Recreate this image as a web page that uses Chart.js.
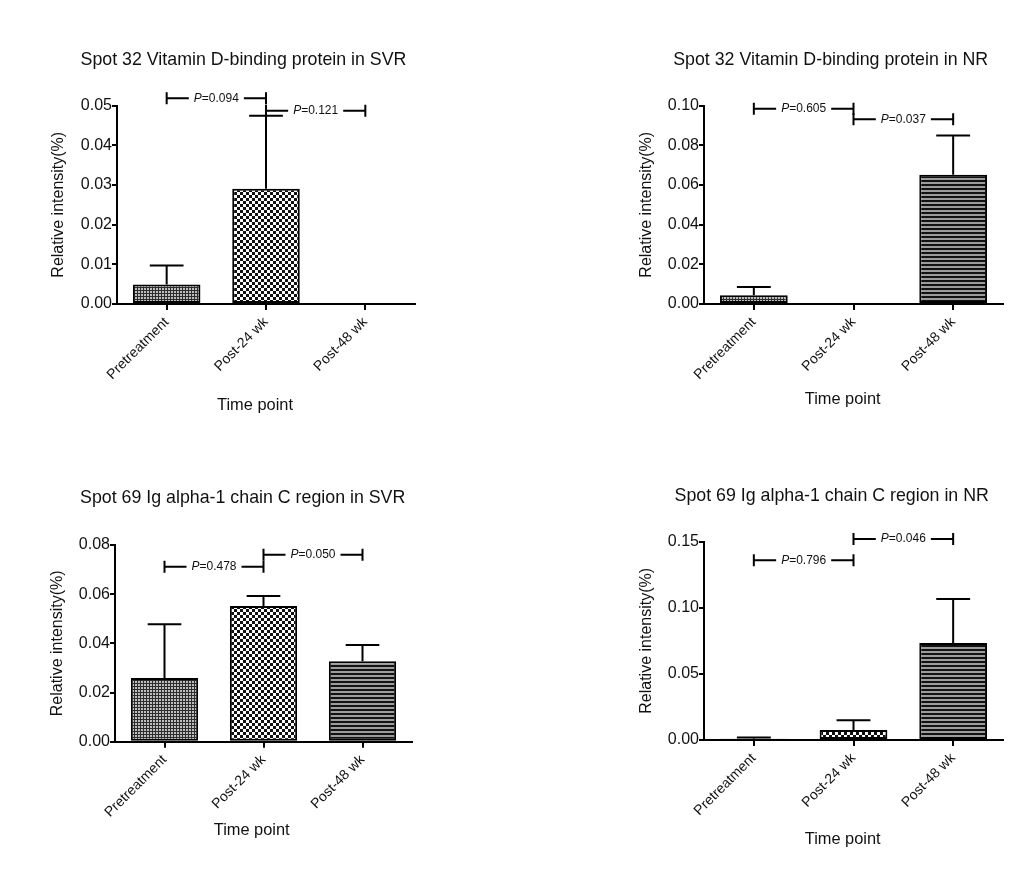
<!DOCTYPE html>
<html>
<head>
<meta charset="utf-8">
<title>Relative intensity by time point</title>
<script src="https://cdn.jsdelivr.net/npm/chart.js@4.4.1/dist/chart.umd.min.js"></script>
<style>
  html, body { margin: 0; padding: 0; background: #fff; }
  #page { position: relative; width: 1023px; height: 882px; overflow: hidden; background: #fff; }
  #page canvas { position: absolute; }
</style>
</head>
<body>
<div id="page">
  <canvas id="c1" width="511" height="441" style="left:0;top:0"></canvas>
  <canvas id="c2" width="512" height="441" style="left:511px;top:0"></canvas>
  <canvas id="c3" width="511" height="441" style="left:0;top:441px"></canvas>
  <canvas id="c4" width="512" height="441" style="left:511px;top:441px"></canvas>
</div>
<script>
// ---- data ----
const timePoints = ['Pretreatment', 'Post-24 wk', 'Post-48 wk'];

const panelTitles = [
  'Spot 32 Vitamin D-binding protein in SVR',
  'Spot 32 Vitamin D-binding protein in NR',
  'Spot 69 Ig alpha-1 chain C region in SVR',
  'Spot 69 Ig alpha-1 chain C region in NR'
];

// Spot 32 Vitamin D-binding protein (mean and upper error, % relative intensity)
const vdbpSvrMean = [0.0049, 0.0290, 0];
const vdbpSvrErr  = [0.0048, 0.0184, 0];
const vdbpNrMean  = [0.0044, 0, 0.0651];
const vdbpNrErr   = [0.0042, 0, 0.0198];

// Spot 69 Ig alpha-1 chain C region
const igaSvrMean = [0.0259, 0.0552, 0.0327];
const igaSvrErr  = [0.0219, 0.0041, 0.0066];
const igaNrMean  = [0.0010, 0.0076, 0.0734];
const igaNrErr   = [0.0008, 0.0074, 0.0333];

// y axis range: [max, step]
const vdbpSvrAxis = [0.05, 0.01];
const vdbpNrAxis  = [0.10, 0.02];
const igaSvrAxis  = [0.08, 0.02];
const igaNrAxis   = [0.15, 0.05];

// pairwise comparisons: [from group, to group, bracket level, P value]
const vdbpSvrP = [[0, 1, 0.0518, '0.094'], [1, 2, 0.0487, '0.121']];
const vdbpNrP  = [[0, 1, 0.0983, '0.605'], [1, 2, 0.0931, '0.037']];
const igaSvrP  = [[0, 1, 0.0712, '0.478'], [1, 2, 0.0760, '0.050']];
const igaNrP   = [[0, 1, 0.1360, '0.796'], [1, 2, 0.1520, '0.046']];

// ---- styling ----
const FONT = '"Liberation Sans", Arial, Helvetica, sans-serif';
Chart.defaults.font.family = FONT;
Chart.defaults.color = '#111';

function makeTile(size, paint) {
  const c = document.createElement('canvas');
  c.width = size; c.height = size;
  const g = c.getContext('2d');
  paint(g);
  return g.createPattern(c, 'repeat');
}
// fine grey dot texture
const finePattern = makeTile(3, g => {
  g.fillStyle = '#2c2c2c'; g.fillRect(0, 0, 3, 3);
  g.fillStyle = '#bdbdbd'; g.fillRect(0, 0, 2, 2);
});
// coarse black/white checkerboard
const checkPattern = makeTile(6, g => {
  g.fillStyle = '#ffffff'; g.fillRect(0, 0, 6, 6);
  g.fillStyle = '#111111'; g.fillRect(0, 0, 3, 3); g.fillRect(3, 3, 3, 3);
});
// horizontal stripes
const stripePattern = makeTile(4, g => {
  g.fillStyle = '#9c9c9c'; g.fillRect(0, 0, 4, 4);
  g.fillStyle = '#121212'; g.fillRect(0, 0, 4, 2);
});
const barFills = [finePattern, checkPattern, stripePattern];

function makePanel(id, spec) {
  const el = document.getElementById(id);
  const W = el.width, H = el.height;
  const [L, R, T, B] = spec.area;

  const decor = {
    id: 'decor',
    afterDatasetsDraw(chart) {
      const { ctx, scales: { y } } = chart;
      const meta = chart.getDatasetMeta(0);
      ctx.save();
      ctx.strokeStyle = '#000';
      ctx.lineWidth = 2;
      meta.data.forEach((bar, i) => {
        const e = spec.err[i];
        if (!e) return;
        const yTop = y.getPixelForValue(spec.mean[i] + e);
        const half = bar.width / 4;
        ctx.beginPath();
        ctx.moveTo(bar.x, bar.y);
        ctx.lineTo(bar.x, yTop);
        ctx.moveTo(bar.x - half, yTop);
        ctx.lineTo(bar.x + half, yTop);
        ctx.stroke();
      });
      ctx.restore();
    },
    afterDraw(chart) {
      const { ctx, scales: { x, y } } = chart;
      ctx.save();
      ctx.fillStyle = '#111';
      ctx.textBaseline = 'middle';
      ctx.textAlign = 'center';
      // panel heading
      ctx.font = '17.8px ' + FONT;
      ctx.fillText(spec.title, spec.titlePos[0], spec.titlePos[1]);
      // x axis heading
      ctx.font = '16.4px ' + FONT;
      ctx.fillText('Time point', spec.xTitlePos[0], spec.xTitlePos[1]);

      // significance brackets
      ctx.strokeStyle = '#000';
      ctx.lineWidth = 2;
      ctx.textAlign = 'left';
      spec.pvals.forEach(([a, b, level, p]) => {
        const x1 = x.getPixelForValue(a);
        const x2 = x.getPixelForValue(b);
        const yy = y.getPixelForValue(level);
        ctx.font = 'italic 12px ' + FONT;
        const wP = ctx.measureText('P').width;
        ctx.font = '12px ' + FONT;
        const rest = '=' + p;
        const wR = ctx.measureText(rest).width;
        const tx = (x1 + x2) / 2 - (wP + wR) / 2;
        const gap = 5;
        ctx.beginPath();
        ctx.moveTo(x1, yy); ctx.lineTo(tx - gap, yy);
        ctx.moveTo(tx + wP + wR + gap, yy); ctx.lineTo(x2, yy);
        ctx.moveTo(x1, yy - 6); ctx.lineTo(x1, yy + 6);
        ctx.moveTo(x2, yy - 6); ctx.lineTo(x2, yy + 6);
        ctx.stroke();
        ctx.font = 'italic 12px ' + FONT;
        ctx.fillText('P', tx, yy);
        ctx.font = '12px ' + FONT;
        ctx.fillText(rest, tx + wP, yy);
      });
      ctx.restore();
    }
  };

  return new Chart(el, {
    type: 'bar',
    data: {
      labels: timePoints,
      datasets: [{
        data: spec.mean,
        backgroundColor: barFills,
        borderColor: '#000',
        borderWidth: 2,
        borderSkipped: false,
        barPercentage: 0.68,
        categoryPercentage: 1.0
      }]
    },
    options: {
      responsive: false,
      devicePixelRatio: 1,
      animation: false,
      layout: { padding: { left: 0, top: T, right: W - R, bottom: 0 } },
      plugins: { legend: { display: false }, tooltip: { enabled: false }, title: { display: false } },
      scales: {
        x: {
          offset: true,
          afterFit(s) { s.height = H - B; },
          border: { display: true, color: '#000', width: 2 },
          grid: { offset: false, drawOnChartArea: false, drawTicks: true, tickLength: 6, color: '#000', lineWidth: 2 },
          ticks: { minRotation: 45, maxRotation: 45, autoSkip: false, padding: 4, color: '#111', font: { size: 14 } }
        },
        y: {
          min: 0,
          max: spec.axis[0],
          afterFit(s) { s.width = L; },
          border: { display: true, color: '#000', width: 2 },
          grid: { drawOnChartArea: false, drawTicks: true, tickLength: 5, color: '#000', lineWidth: 2 },
          ticks: { stepSize: spec.axis[1], padding: 0, color: '#111', font: { size: 16 },
                   callback: v => Number(v).toFixed(2) },
          title: { display: true, text: 'Relative intensity(%)', color: '#111', font: { size: 16 },
                   padding: { top: spec.yTitleX - 9.6, bottom: 0 } }
        }
      }
    },
    plugins: [decor]
  });
}

makePanel('c1', { title: panelTitles[0], mean: vdbpSvrMean, err: vdbpSvrErr, axis: vdbpSvrAxis, pvals: vdbpSvrP,
  area: [117, 415, 105.5, 304], yTitleX: 59, titlePos: [243.5, 60], xTitlePos: [255, 405.5] });
makePanel('c2', { title: panelTitles[1], mean: vdbpNrMean, err: vdbpNrErr, axis: vdbpNrAxis, pvals: vdbpNrP,
  area: [193, 492, 105.5, 304], yTitleX: 136, titlePos: [319.7, 60], xTitlePos: [331.7, 399] });
makePanel('c3', { title: panelTitles[2], mean: igaSvrMean, err: igaSvrErr, axis: igaSvrAxis, pvals: igaSvrP,
  area: [115, 412, 104, 300.7], yTitleX: 58, titlePos: [242.7, 57], xTitlePos: [251.7, 389] });
makePanel('c4', { title: panelTitles[3], mean: igaNrMean, err: igaNrErr, axis: igaNrAxis, pvals: igaNrP,
  area: [193, 492, 100.7, 299], yTitleX: 136, titlePos: [320.7, 55], xTitlePos: [331.7, 398] });
</script>
</body>
</html>
